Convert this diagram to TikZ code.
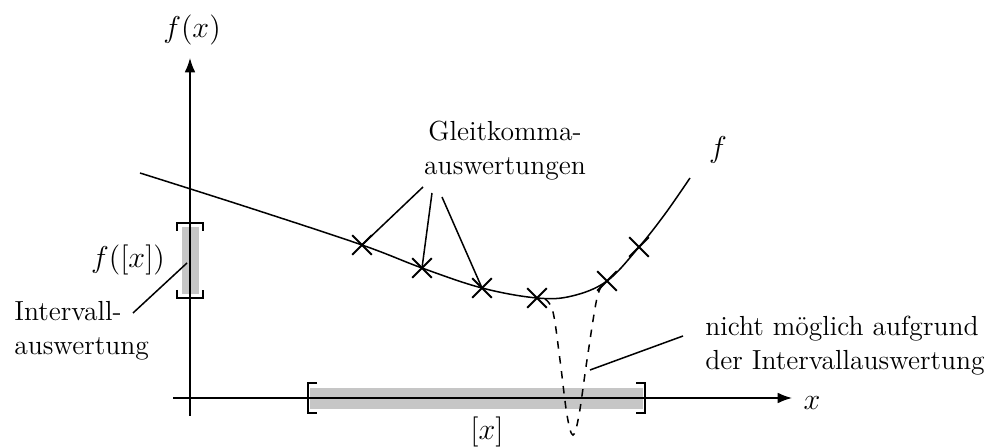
\documentclass[tikz,border=0pt]{standalone}
\usetikzlibrary{arrows.meta,positioning,shapes.misc}

\begin{document}
\begin{tikzpicture}[x=0.014cm,y=-0.014cm,>=Latex,font=\fontsize{11}{13.5}\selectfont,semithick,
 xmark/.style={cross out,draw,thick,minimum size=7pt,inner sep=0pt},
 brk/.style={thick},
 band/.style={fill=gray!45,draw=none},
 lab/.style={align=left,inner sep=1pt}]
\useasboundingbox (0,0) rectangle (986,448);
% intervals (shaded)
\fill[band] (310,388) rectangle (643,409);
\fill[band] (182,227) rectangle (199,294);
% axes
\coordinate (ybot) at (190,416); \coordinate (ytop) at (190,58);
\coordinate (xbeg) at (173,398); \coordinate (xend) at (792,398);
\draw[->] (ybot) -- (ytop);
\draw[->] (xbeg) -- (xend);
\node[font=\fontsize{12}{14}\selectfont] (fx) at (192,30) {$f(x)$};
\node[font=\fontsize{12}{14}\selectfont] (xl) at (812,403) {$x$};
% brackets of [x] and f([x])
\draw[brk] (317,383) -- (308,383) -- (308,413) -- (317,413);
\draw[brk] (636,383) -- (645,383) -- (645,413) -- (636,413);
\draw[brk] (177,231) -- (177,223) -- (203,223) -- (203,231);
\draw[brk] (177,290) -- (177,298) -- (203,298) -- (203,290);
\node[font=\fontsize{12}{14}\selectfont] (ix) at (487,432) {$[x]$};
\node[font=\fontsize{12}{14}\selectfont] (fix) at (128,260) {$f([x])$};
% function f
\draw plot[smooth,tension=0.6] coordinates {(140,173) (250,208) (362,245) (422,268) (482,288) (537,298) (572,296) (607,281) (639,247) (665,214) (690,178)};
\node[font=\fontsize{12}{14}\selectfont] (fl) at (718,150) {$f$};
\foreach \n/\p in {c1/{(362,245)},c2/{(422,268)},c3/{(482,288)},c4/{(537,298)},c5/{(607,281)},c6/{(639,247)}}
  \node[xmark] (\n) at \p {};
% dashed part, not seen by the point evaluations
\draw[dashed] plot[smooth,tension=0.6] coordinates {(545,299) (553,312) (560,360) (567,415) (573,435) (579,415) (587,360) (597,298) (604,284)};
% labels
\node[align=center] (gk) at (505,151) {Gleitkomma-\\auswertungen};
\draw (423,187) -- (c1.center);
\draw (432,193) -- (c2.center);
\draw (442,197) -- (c3.center);
\node[lab,anchor=west] (iv) at (11,331) {Intervall-\\auswertung};
\draw (133,313) -- (187,263);
\node[lab,anchor=west] (nm) at (702,346) {nicht m\"oglich aufgrund\\der Intervallauswertung};
\draw (683,336) -- (590,370);
\end{tikzpicture}
\end{document}
